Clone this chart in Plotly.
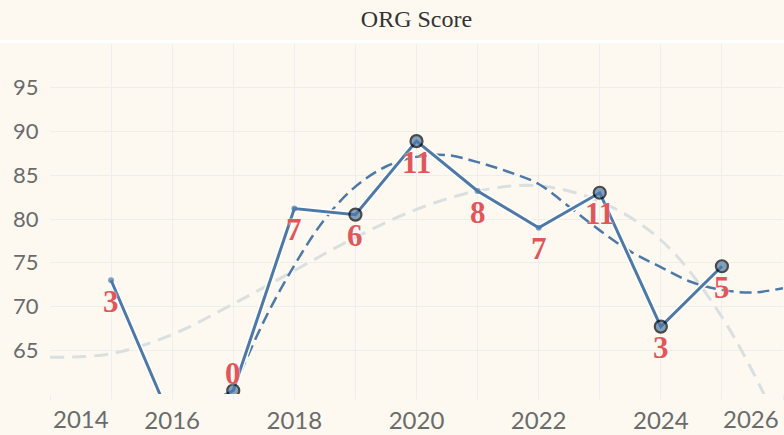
import plotly.graph_objects as go

# ORG score per year and the count shown under each point
years = [2015, 2016, 2017, 2018, 2019, 2020, 2021, 2022, 2023, 2024, 2025]
scores = [73.0, 56.7, 60.4, 81.2, 80.5, 88.9, 83.2, 79.0, 83.0, 67.7, 74.6]
counts = [3, None, 0, 7, 6, 11, 8, 7, 11, 3, 5]
flagged = [False, False, True, False, True, True, False, False, True, True, True]

# trend lines
trend_a_years = [2017, 2017.5, 2018, 2018.5, 2019, 2019.5, 2020, 2020.5, 2021,
                 2021.5, 2022, 2022.5, 2023, 2023.5, 2024, 2024.5, 2025, 2025.5, 2026]
trend_a_vals = [60.5, 68.3, 74.7, 80.0, 83.7, 86.0, 87.1, 87.3, 86.5,
                85.4, 84.0, 81.4, 78.7, 76.3, 74.5, 72.8, 71.9, 71.6, 72.1]
trend_b_years = [2014, 2015, 2016, 2017, 2018, 2019, 2020, 2021, 2022, 2023, 2024, 2025, 2026]
trend_b_vals = [64.2, 64.6, 66.8, 70.3, 74.1, 77.9, 81.1, 83.2, 83.8, 82.0, 77.6, 68.8, 55.5]

x_ticks = list(range(2014, 2027))
x_tick_labels = ["", "", "2016", "", "2018", "", "2020", "", "2022", "", "2024", "", ""]
y_ticks = [60, 65, 70, 75, 80, 85, 90, 95, 100]
y_tick_labels = ["", "65", "70", "75", "80", "85", "90", "95", ""]

BG = "#FDF9F1"
BLUE = "#4E79A7"
RED = "#E15759"
GRID = "#EDEFEF"
TICK = "#6B6B6B"

fig = go.Figure()

fig.add_trace(go.Scatter(x=trend_b_years, y=trend_b_vals, mode="lines",
                         line=dict(color="#DADFE0", width=3, dash="14px,8px",
                                   shape="spline"),
                         hoverinfo="skip"))
fig.add_trace(go.Scatter(x=trend_a_years, y=trend_a_vals, mode="lines",
                         line=dict(color=BLUE, width=2.5, dash="12px,6px",
                                   shape="spline"),
                         hoverinfo="skip"))

# white halo under the main line
fig.add_trace(go.Scatter(x=years, y=scores, mode="lines",
                         line=dict(color="white", width=6), hoverinfo="skip"))
fig.add_trace(go.Scatter(
    x=years, y=scores, mode="lines+markers",
    line=dict(color=BLUE, width=3),
    marker=dict(color=BLUE,
                size=[12 if f else 6 for f in flagged],
                line=dict(color=["black" if f else BLUE for f in flagged],
                          width=[2.2 if f else 0 for f in flagged])),
))

for x, y, c in zip(years, scores, counts):
    if c is None:
        continue
    above = y < 62
    fig.add_annotation(x=x, y=y, text=str(c), showarrow=False,
                       yanchor="middle", yshift=17 if above else -21,
                       font=dict(family="Liberation Serif", size=31, color=RED,
                                 weight="bold", shadow="0px 0px 2px white"))

# end labels kept inside the plot, like the original
fig.add_annotation(x=2014, y=0, yref="paper", text="2014", showarrow=False,
                   xanchor="left", yanchor="middle", xshift=1, yshift=-24,
                   font=dict(family="Lato", size=24, color=TICK))
fig.add_annotation(x=2026, y=0, yref="paper", text="2026", showarrow=False,
                   xanchor="right", yanchor="middle", xshift=-2, yshift=-24,
                   font=dict(family="Lato", size=24, color=TICK))

# white strip under the title band
fig.add_shape(type="line", xref="paper", yref="paper", x0=-0.08, x1=1.01,
              y0=1.007, y1=1.007, line=dict(color="white", width=3))

fig.update_layout(
    width=784, height=435,
    paper_bgcolor=BG, plot_bgcolor=BG,
    showlegend=False,
    margin=dict(l=50, r=1, t=44, b=41),
    title=dict(text="ORG Score", x=0.5, xref="paper", y=0.958, yanchor="middle",
               font=dict(family="Liberation Serif", size=24, color="#333333")),
    xaxis=dict(range=[2014, 2026], tickvals=x_ticks, ticktext=x_tick_labels,
               showgrid=True, gridcolor=GRID, gridwidth=1, zeroline=False,
               ticks="outside", ticklen=5, tickcolor=GRID,
               tickfont=dict(family="Lato", size=24, color=TICK)),
    yaxis=dict(range=[60, 100], tickvals=y_ticks, ticktext=y_tick_labels,
               showgrid=True, gridcolor=GRID, gridwidth=1, zeroline=False,
               ticks="outside", ticklen=6, tickcolor=BG,
               tickfont=dict(family="Lato", size=22, color=TICK)),
)

fig.write_html("out.html", config={"displayModeBar": False},
               post_script="document.body.style.margin='0';")
